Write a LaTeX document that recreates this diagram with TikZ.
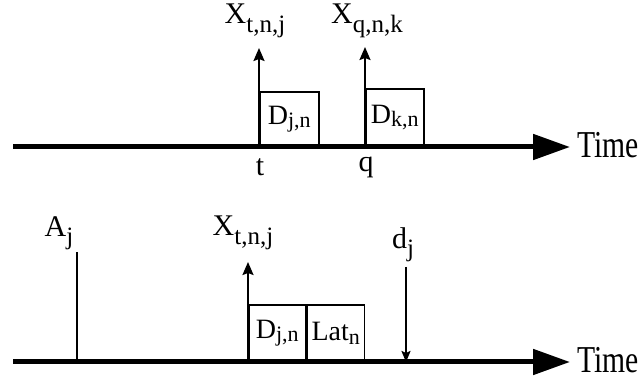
\documentclass[tikz,border=0pt]{standalone}
\usepackage{fontspec}
\setmainfont{Liberation Serif}
\usetikzlibrary{arrows.meta, positioning, calc}

% lowered index in a slightly smaller size
\newcommand{\lsub}[1]{\raisebox{-0.28em}{\fontsize{25}{25}\selectfont #1}}
\newcommand{\bsub}[1]{\raisebox{-0.12em}{\fontsize{22}{22}\selectfont #1}}

\begin{document}
\begin{tikzpicture}[x=1pt,y=1pt,
  axisline/.style={line width=5pt,-{Triangle[length=37pt,width=25pt]}},
  evtarrow/.style={line width=2pt,-{Stealth[length=13pt,width=11pt,inset=2pt]}},
  slotbox/.style={draw,line width=1.5pt,inner sep=0pt,anchor=south west,
    font=\fontsize{28}{28}\selectfont},
  lbl/.style={font=\fontsize{30}{30}\selectfont,inner sep=0pt},
  timelbl/.style={font=\fontsize{38}{38}\selectfont,inner sep=0pt,anchor=west,
    xscale=0.78,transform shape}]
  \useasboundingbox (0,0) rectangle (638,385);

  % Upper time line
  \coordinate (s1) at (13,238);
  \coordinate (e1) at (570,238);
  \draw[axisline] (s1) -- (e1);
  \node[timelbl] (time1) at (577,240) {Time};

  % Job j placed on node n at t
  \coordinate (t1) at (259,238);
  \coordinate (xt1) at (259,337);
  \node[slotbox,minimum width=59pt,minimum height=54pt] (djn1) at (t1) {D\bsub{j,n}};
  \draw[evtarrow] (t1) -- (xt1);
  \node[lbl] (xtnj1) at (255,364) {X\lsub{t,n,j}};
  \node[lbl] (tlbl) at (260,218) {t};

  % Job k placed on node n at q
  \coordinate (q1) at (365,238);
  \coordinate (xq1) at (365,338);
  \node[slotbox,minimum width=58pt,minimum height=57pt] (dkn1) at (q1) {D\bsub{k,n}};
  \draw[evtarrow] (q1) -- (xq1);
  \node[lbl] (xqnk1) at (367,364) {X\lsub{q,n,k}};
  \node[lbl] (qlbl) at (366,218) {q};

  % Lower time line
  \coordinate (s2) at (13,23);
  \coordinate (e2) at (570,23);
  \draw[axisline] (s2) -- (e2);
  \node[timelbl] (time2) at (577,25) {Time};

  % Arrival of job j
  \coordinate (a0) at (77,23);
  \coordinate (a1) at (77,133);
  \draw[line width=2pt] (a0) -- (a1);
  \node[lbl] (ajlbl) at (59,152) {A\lsub{j}};

  % Start at t, processing and latency
  \coordinate (t2) at (248,23);
  \coordinate (xt2) at (248,123);
  \node[slotbox,minimum width=57pt,minimum height=56pt] (djn2) at (t2) {D\bsub{j,n}};
  \node[slotbox,minimum width=57pt,minimum height=56pt] (latn) at (djn2.south east) {Lat\bsub{n}};
  \draw[evtarrow] (t2) -- (xt2);
  \node[lbl] (xtnj2) at (243,152) {X\lsub{t,n,j}};

  % Deadline of job j
  \coordinate (d1) at (406,118);
  \coordinate (d0) at (406,23);
  \draw[line width=2pt,-{Stealth[length=11pt,width=9pt,inset=2pt]}] (d1) -- (d0);
  \node[lbl] (djlbl) at (403,140) {d\lsub{j}};
\end{tikzpicture}
\end{document}
